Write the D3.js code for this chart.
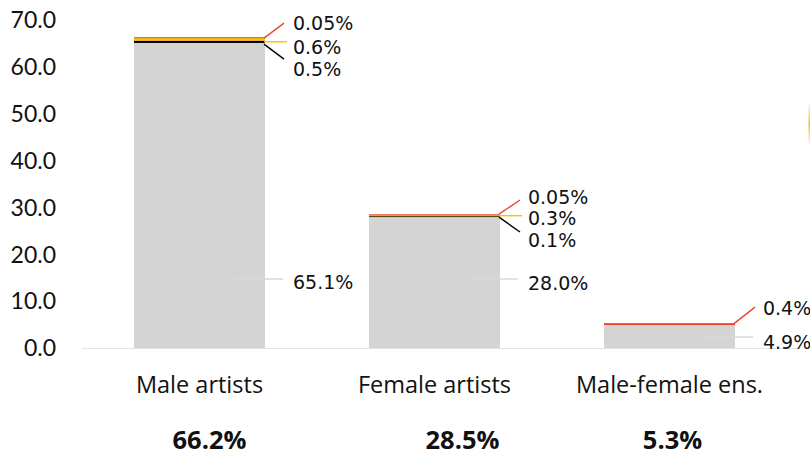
<!DOCTYPE html>
<html><head><meta charset="utf-8">
<script src="https://cdn.jsdelivr.net/npm/d3@7"></script>
<style>html,body{margin:0;padding:0;background:#fff;}svg{display:block;}</style>
</head><body>
<svg id="chart" width="810" height="456"></svg>
<script>
// ---- data ----
const categories = ["Male artists", "Female artists", "Male-female ens."];
const grayValues   = [65.1, 28.0, 4.9];
const blackValues  = [0.5, 0.1, 0];
const yellowValues = [0.6, 0.3, 0];
const redValues    = [0.05, 0.05, 0.4];
const grayLabels   = ["65.1%", "28.0%", "4.9%"];
const blackLabels  = ["0.5%", "0.1%", ""];
const yellowLabels = ["0.6%", "0.3%", ""];
const redLabels    = ["0.05%", "0.05%", "0.4%"];
const totals       = ["66.2%", "28.5%", "5.3%"];
const yTicks       = [0, 10, 20, 30, 40, 50, 60, 70];

const seriesKeys = ["gray", "black", "yellow", "red"];
const seriesVals = {gray: grayValues, black: blackValues, yellow: yellowValues, red: redValues};
const colors = {gray: "#d4d4d4", black: "#000000", yellow: "#ffc000", red: "#e8472e"};

const rows = categories.map((c, i) => ({cat: c, gray: grayValues[i], black: blackValues[i], yellow: yellowValues[i], red: redValues[i]}));
const stack = d3.stack().keys(seriesKeys)(rows);

const svg = d3.select("#chart");
const x = d3.scaleBand().domain(categories).range([82, 787]).paddingInner(0.4426).paddingOuter(0.2213);
const y = d3.scaleLinear().domain([0, 70]).range([348, 20]);

const LABEL_FONT = "'DejaVu Sans', sans-serif";
const AXIS_FONT = "Lato, 'Open Sans', sans-serif";
const CAT_FONT = "'Open Sans', sans-serif";

// y axis tick labels
svg.append("g").selectAll("text").data(yTicks).join("text")
  .attr("x", 56).attr("y", d => y(d)).attr("dy", "0.36em")
  .attr("text-anchor", "end").attr("font-family", AXIS_FONT).attr("font-size", 23)
  .attr("fill", "#111").text(d => d3.format(".1f")(d));

// baseline
svg.append("line").attr("x1", 82).attr("x2", 800).attr("y1", y(0) + 0.5).attr("y2", y(0) + 0.5)
  .attr("stroke", "#e3e3e3").attr("stroke-width", 1);

// bars (thin non-zero segments get at least ~1px so they stay visible)
svg.append("g").selectAll("g").data(stack).join("g")
  .attr("fill", d => colors[d.key])
  .selectAll("rect").data(d => d).join("rect")
  .attr("x", d => x(d.data.cat)).attr("width", x.bandwidth())
  .attr("y", d => { const h = y(d[0]) - y(d[1]); return h > 0 && h < 1 ? y(d[1]) - (1 - h) / 2 : y(d[1]); })
  .attr("height", d => { const h = y(d[0]) - y(d[1]); return h > 0 ? Math.max(1, h) : 0; });

// layout of data labels (pixel offsets relative to top of bar)
const topLabelLayout = [
  {red: {lx: 19, sy: 0.5, ly: -14.5, ty: -14.5}, yellow: {lx: 22, sy: 4.2, ly: 4.2, ty: 9.5}, black: {lx: 19, sy: 6.5, ly: 21.5, ty: 31.5}},
  {red: {lx: 20, sy: -0.5, ly: -14.7, ty: -17.7}, yellow: {lx: 22, sy: 1, ly: 1, ty: 3.3}, black: {lx: 20, sy: 2.5, ly: 17.3, ty: 25.3}},
  {red: {lx: 20, sy: 0.5, ly: -16, ty: -15}}
];
const grayLayout = [
  {x1: 233, y: 279, ty: 282},
  {x1: 468, y: 279, ty: 283},
  {x1: 703, y: 337, ty: 342}
];
const labelSets = {red: redLabels, yellow: yellowLabels, black: blackLabels};
const ann = svg.append("g");

categories.forEach((c, i) => {
  const right = x(c) + x.bandwidth();
  const top = y(grayValues[i] + blackValues[i] + yellowValues[i] + redValues[i]);
  const lay = topLabelLayout[i];
  ["red", "yellow", "black"].forEach(k => {
    if (!seriesVals[k][i] || !lay[k]) return;
    const L = lay[k];
    ann.append("line").attr("x1", right - 1).attr("y1", top + L.sy)
      .attr("x2", right + L.lx).attr("y2", top + L.ly)
      .attr("stroke", colors[k]).attr("stroke-width", 1.4);
    ann.append("text").attr("x", right + 28).attr("y", top + L.ty).attr("dy", "0.36em")
      .attr("font-family", LABEL_FONT).attr("font-size", 19).attr("fill", "#111")
      .text(labelSets[k][i]);
  });
  const G = grayLayout[i];
  ann.append("line").attr("x1", G.x1).attr("x2", right + 18).attr("y1", G.y).attr("y2", G.y)
    .attr("stroke", "#d8d8d8").attr("stroke-width", 1.5);
  ann.append("text").attr("x", right + 28).attr("y", G.ty).attr("dy", "0.36em")
    .attr("font-family", LABEL_FONT).attr("font-size", 19).attr("fill", "#111")
    .text(grayLabels[i]);
});

// category labels
svg.append("g").selectAll("text").data(categories).join("text")
  .attr("x", d => x(d) + x.bandwidth() / 2).attr("y", 385).attr("dy", "0.36em")
  .attr("text-anchor", "middle").attr("font-family", CAT_FONT).attr("font-size", 23.5)
  .attr("fill", "#111").text(d => d);

// totals
const totalOffsets = [10, 28, 3];
svg.append("g").selectAll("text").data(totals).join("text")
  .attr("x", (d, i) => x(categories[i]) + x.bandwidth() / 2 + totalOffsets[i]).attr("y", 439.5).attr("dy", "0.36em")
  .attr("text-anchor", "middle").attr("font-family", CAT_FONT).attr("font-weight", "bold").attr("font-size", 25.5)
  .attr("fill", "#111").text(d => d);

// faint orange edge mark at right
const grad = svg.append("defs").append("linearGradient").attr("id", "fade").attr("x1", 0).attr("x2", 0).attr("y1", 0).attr("y2", 1);
grad.append("stop").attr("offset", "0%").attr("stop-color", "#f5b400").attr("stop-opacity", 0.1);
grad.append("stop").attr("offset", "50%").attr("stop-color", "#f5b400").attr("stop-opacity", 0.9);
grad.append("stop").attr("offset", "100%").attr("stop-color", "#f5b400").attr("stop-opacity", 0.1);
svg.append("rect").attr("x", 808.5).attr("y", 103).attr("width", 1.5).attr("height", 42).attr("fill", "url(#fade)");
</script>
</body></html>
